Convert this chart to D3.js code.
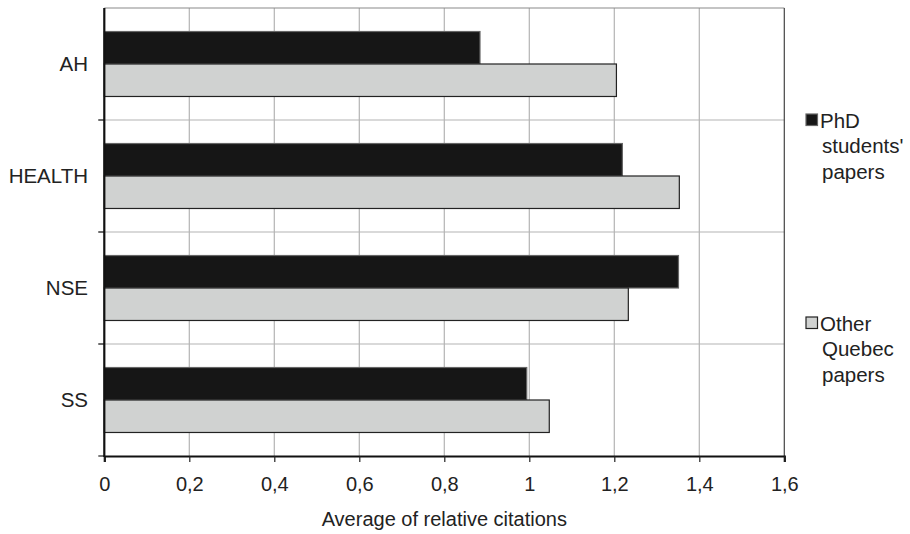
<!DOCTYPE html>
<html><head><meta charset="utf-8">
<script src="https://cdn.jsdelivr.net/npm/d3@7"></script>
<style>body{margin:0;background:#fff}svg{display:block;font-family:"Liberation Sans",Arial,sans-serif}</style>
</head><body><svg id="c" width="910" height="534"></svg>
<script>
const categories = ["AH","HEALTH","NSE","SS"];
const seriesNames = ["PhD students' papers","Other Quebec papers"];
const phdValues = [0.884, 1.219, 1.351, 0.994];
const otherValues = [1.205, 1.353, 1.233, 1.047];
const xTicks = [0,0.2,0.4,0.6,0.8,1,1.2,1.4,1.6];
const xTickLabels = ["0","0,2","0,4","0,6","0,8","1","1,2","1,4","1,6"];
const axisTitle = "Average of relative citations";

const svg = d3.select("#c");
const L=104.3, R=784.3, T=8, B=456;
const x = d3.scaleLinear().domain([0,1.6]).range([L,R]);
const y = d3.scaleBand().domain(categories).range([T,B]).paddingInner(0.42).paddingOuter(0.21);
const sub = d3.scaleBand().domain([0,1]).range([0,y.bandwidth()]);
const step = (B-T)/categories.length;
const fills = ["#161616","#d0d2d1"], strokes = ["#666","#222"];
const FF = "Liberation Sans, Arial, sans-serif";

// vertical grid
svg.append("g").selectAll("line").data(xTicks.slice(1,-1)).join("line")
  .attr("x1",d=>x(d)).attr("x2",d=>x(d)).attr("y1",T).attr("y2",B)
  .attr("stroke","#b4b4b4").attr("stroke-width",1.2);
// horizontal grid at band boundaries
const bounds = d3.range(1,categories.length).map(i=>T+i*step);
svg.append("g").selectAll("line").data(bounds).join("line")
  .attr("x1",L-6).attr("x2",R).attr("y1",d=>d).attr("y2",d=>d)
  .attr("stroke","#b4b4b4").attr("stroke-width",1.2);
svg.append("g").selectAll("line").data(bounds.concat([B])).join("line")
  .attr("x1",L-6).attr("x2",L).attr("y1",d=>d).attr("y2",d=>d)
  .attr("stroke","#222").attr("stroke-width",1.2);
// top and right border
svg.append("line").attr("x1",L).attr("x2",R).attr("y1",T).attr("y2",T).attr("stroke","#8a8a8a").attr("stroke-width",1.2);
svg.append("line").attr("x1",R).attr("x2",R).attr("y1",T).attr("y2",B).attr("stroke","#444").attr("stroke-width",1.2);

// bars
const data = categories.map((c,i)=>({c, v:[phdValues[i], otherValues[i]]}));
const g = svg.append("g").selectAll("g").data(data).join("g")
  .attr("transform",d=>`translate(0,${y(d.c)})`);
g.selectAll("rect").data(d=>d.v.map((v,k)=>({v,k}))).join("rect")
  .attr("x",x(0)).attr("y",d=>sub(d.k)).attr("width",d=>x(d.v)-x(0)).attr("height",sub.bandwidth())
  .attr("fill",d=>fills[d.k]).attr("stroke",d=>strokes[d.k]).attr("stroke-width",1.2);

// x axis
const xa = svg.append("g").attr("transform",`translate(0,${B})`)
  .call(d3.axisBottom(x).tickValues(xTicks).tickFormat((d,i)=>xTickLabels[i]).tickSize(6).tickPadding(16));
xa.attr("font-size",20).attr("font-family",FF);
xa.select(".domain").attr("stroke","#111").attr("stroke-width",2.2);
xa.selectAll(".tick line").attr("stroke","#222").attr("stroke-width",1.2);
xa.selectAll("text").attr("fill","#222").attr("dy",null).attr("y",null)
  .attr("transform","translate(0,34.5)");
// y axis line
svg.append("line").attr("x1",L).attr("x2",L).attr("y1",T).attr("y2",B+1).attr("stroke","#111").attr("stroke-width",2.2);
// y labels
svg.append("g").selectAll("text").data(categories).join("text")
  .attr("x",88).attr("y",d=>y(d)+y.bandwidth()/2+7.2)
  .attr("text-anchor","end").attr("font-size",20.5).attr("fill","#222").text(d=>d);
// axis title
svg.append("text").attr("x",(L+R)/2).attr("y",525.7).attr("text-anchor","middle")
  .attr("font-size",20).attr("fill","#222").text(axisTitle);

// legend
const legendLines = [["PhD","students'","papers"],["Other","Quebec","papers"]];
const legY = [114, 317];
legendLines.forEach((lines,k)=>{
  svg.append("rect").attr("x",806).attr("y",legY[k]).attr("width",11.5).attr("height",11.5)
    .attr("fill",fills[k]).attr("stroke",strokes[k]).attr("stroke-width",1.2);
  const t = svg.append("text").attr("x",821).attr("y",legY[k]+13.5).attr("font-size",20.5).attr("fill","#222");
  lines.forEach((s,j)=>t.append("tspan").attr("x",j===0?820:822).attr("dy",j===0?0:25.5).text(s));
});
</script></body></html>
